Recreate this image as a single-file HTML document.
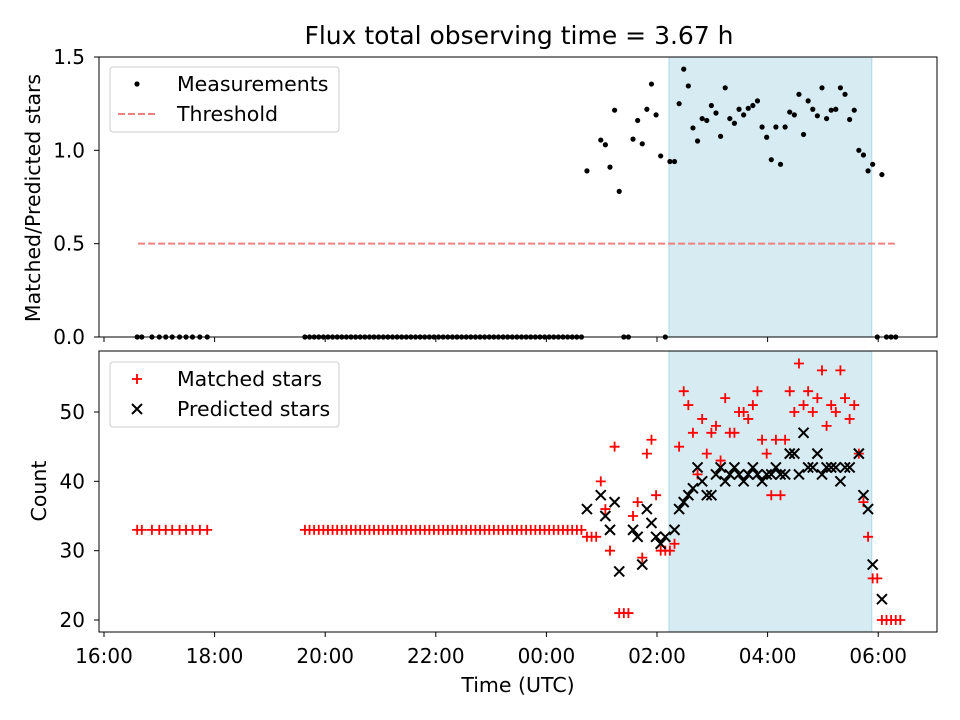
<!DOCTYPE html>
<html><head><meta charset="utf-8">
<style>
body{margin:0;background:#fff;}
svg{display:block;font-family:"DejaVu Sans","Liberation Sans",sans-serif;}
</style></head>
<body>
<svg id="fig" width="960" height="720" viewBox="0 0 960 720" xmlns="http://www.w3.org/2000/svg">
<rect width="960" height="720" fill="#fff"/>
<text x="519" y="44" text-anchor="middle" font-size="25">Flux total observing time = 3.67 h</text>
<g id="topPanel"></g>
<g id="botPanel"></g>
<text x="518" y="692" text-anchor="middle" font-size="20.5">Time (UTC)</text>
<text transform="translate(40,198) rotate(-90)" text-anchor="middle" font-size="20.5">Matched/Predicted stars</text>
<text transform="translate(46,491) rotate(-90)" text-anchor="middle" font-size="20.5">Count</text>
</svg>
<script>
// minutes since 16:00
const lowTimes=[36,41,52,60,67,74,82,89,96,104,112,
218,223,228,233,238,243,248,253,258,263,268,273,278,283,288,293,298,303,308,313,318,323,328,333,338,343,348,353,358,363,368,373,378,383,388,393,398,403,408,413,418,423,428,433,438,443,448,453,458,463,468,473,478,483,488,493,498,503,508,513,518];
const lowMatched=lowTimes.map(()=>33);
const lowRatio=lowTimes.map(()=>0);
const denseTimes=[524,529,534,539,544,549,554,559,564,569,574,579,584,589,594,599,604,609,614,619,624,629,634,639,644,649,654,659,664,669,674,679,684,689,694,699,704,709,714,719,724,729,734,739,744,749,754,759,764,769,774,779,784,789,794,799,804,809,814,819,824,829,834,839,844,849,854,859,864];
const matched=[32,32,32,40,36,30,45,21,21,21,35,37,29,44,46,38,30,30,30,31,45,53,51,47,41,49,44,47,48,43,52,47,47,50,50,49,51,53,46,44,38,46,38,46,53,50,57,51,53,50,52,56,48,51,50,56,52,49,51,44,37,32,26,26,20,20,20,20,20];
const predicted=[36,null,null,38,35,33,37,27,null,null,33,32,28,36,34,32,31,32,null,33,36,37,38,39,42,40,38,38,41,42,40,41,42,41,40,41,42,41,40,41,41,42,41,41,44,44,41,47,42,42,44,41,42,42,42,40,42,42,null,44,38,36,28,null,23,null,null,null,null];
const ratio=[0.89,null,null,1.055,1.03,0.91,1.215,0.78,0,0,1.06,1.16,1.035,1.22,1.355,1.19,0.97,0,0.94,0.94,1.25,1.435,1.345,1.12,1.05,1.17,1.16,1.24,1.20,1.075,1.335,1.17,1.145,1.22,1.19,1.225,1.24,1.265,1.125,1.07,0.95,1.125,0.925,1.125,1.205,1.19,1.30,1.085,1.265,1.22,1.185,1.335,1.17,1.215,1.22,1.335,1.30,1.165,1.215,1.0,0.975,0.89,0.925,0,0.87,0,0,0,null];
const xTickLabels=["16:00","18:00","20:00","22:00","00:00","02:00","04:00","06:00"];
const xTickMins=[0,120,240,360,480,600,720,840];
const topTicks=[0,0.5,1.0,1.5];
const botTicks=[20,30,40,50];
const shade=[613,833];
const threshold=[0.5];
const thrRange=[37,858];

const NS="http://www.w3.org/2000/svg";
const X=m=>104+m*0.92167;
const L=99,R=937,T1=57,B1=337,T2=351,B2=632;
const Yt=v=>337-v*186.67;
const Yb=v=>620-(v-20)*6.933;
function mk(p,tag,at){const e=document.createElementNS(NS,tag);for(const k in at)e.setAttribute(k,at[k]);p.appendChild(e);return e;}
const topG=document.getElementById('topPanel'),botG=document.getElementById('botPanel');

function panel(g,t,b){
  const s=mk(g,'rect',{x:X(shade[0]),y:t,width:X(shade[1])-X(shade[0]),height:b-t,fill:'#add8e6','fill-opacity':0.5,stroke:'#add8e6'});
  
  
  xTickMins.forEach((m,i)=>{
    const tk=mk(g,'line',{x1:X(m),x2:X(m),y1:b,y2:b+5,stroke:'#000','stroke-width':1});
    
    
    if(g===botG){const tx=mk(g,'text',{x:X(m),y:663,'text-anchor':'middle','font-size':20});tx.textContent=xTickLabels[i];
      
      }
  });
}
panel(topG,T1,B1);panel(botG,T2,B2);

topTicks.forEach(v=>{const y=Yt(v);mk(topG,'line',{x1:L-5,x2:L,y1:y,y2:y,stroke:'#000'});
  const t=mk(topG,'text',{x:85,y:y+7,'text-anchor':'end','font-size':20});t.textContent=v.toFixed(1);
  
  });
botTicks.forEach(v=>{const y=Yb(v);mk(botG,'line',{x1:L-5,x2:L,y1:y,y2:y,stroke:'#000'});
  const t=mk(botG,'text',{x:85,y:y+7,'text-anchor':'end','font-size':20});t.textContent=v;
  
  });

const th=mk(topG,'line',{x1:X(thrRange[0]),x2:X(thrRange[1]),y1:Yt(threshold[0]),y2:Yt(threshold[0]),stroke:'#f08080','stroke-width':2,'stroke-dasharray':'7,3'});



function dot(x,y){const c=mk(topG,'circle',{cx:x,cy:y,r:2.6,fill:'#000'});
  
  }
lowTimes.forEach((t,i)=>dot(X(t),Yt(lowRatio[i])));
denseTimes.forEach((t,i)=>{if(ratio[i]!==null)dot(X(t),Yt(ratio[i]));});

function plus(x,y){const p=mk(botG,'path',{d:`M${x-5},${y}H${x+5}M${x},${y-5}V${y+5}`,stroke:'#f00','stroke-width':1.8});
  
  }
function cross(x,y){const p=mk(botG,'path',{d:`M${x-5},${y-5}L${x+5},${y+5}M${x-5},${y+5}L${x+5},${y-5}`,stroke:'#000','stroke-width':2});
  
  }
lowTimes.forEach((t,i)=>plus(X(t),Yb(lowMatched[i])));
denseTimes.forEach((t,i)=>plus(X(t),Yb(matched[i])));
denseTimes.forEach((t,i)=>{if(predicted[i]!==null)cross(X(t),Yb(predicted[i]));});

mk(topG,'rect',{x:L,y:T1,width:R-L,height:B1-T1,fill:'none',stroke:'#000','stroke-width':1});
mk(botG,'rect',{x:L,y:T2,width:R-L,height:B2-T2,fill:'none',stroke:'#000','stroke-width':1});

function legend(g,y0,items){
  const lg=mk(g,'g',{});
  
  
  mk(lg,'rect',{x:110,y:y0,width:229,height:65,rx:3,fill:'#fff','fill-opacity':0.8,stroke:'#ccc'});
  items.forEach((it,i)=>{const cy=y0+17+i*30;it.draw(lg,137,cy);
    const t=mk(lg,'text',{x:177,y:cy+7,'font-size':20.5});t.textContent=it.label;
    
    });
}
legend(topG,67,[{label:'Measurements',draw:(g,x,y)=>mk(g,'circle',{cx:x,cy:y,r:2.6,fill:'#000'})},
 {label:'Threshold',draw:(g,x,y)=>mk(g,'line',{x1:x-19,x2:x+21,y1:y,y2:y,stroke:'#f08080','stroke-width':2,'stroke-dasharray':'7,3'})}]);
legend(botG,362,[{label:'Matched stars',draw:(g,x,y)=>mk(g,'path',{d:`M${x-5},${y}H${x+5}M${x},${y-5}V${y+5}`,stroke:'#f00','stroke-width':1.8})},
 {label:'Predicted stars',draw:(g,x,y)=>mk(g,'path',{d:`M${x-5},${y-5}L${x+5},${y+5}M${x-5},${y+5}L${x+5},${y-5}`,stroke:'#000','stroke-width':2})}]);
</script>
</body></html>
